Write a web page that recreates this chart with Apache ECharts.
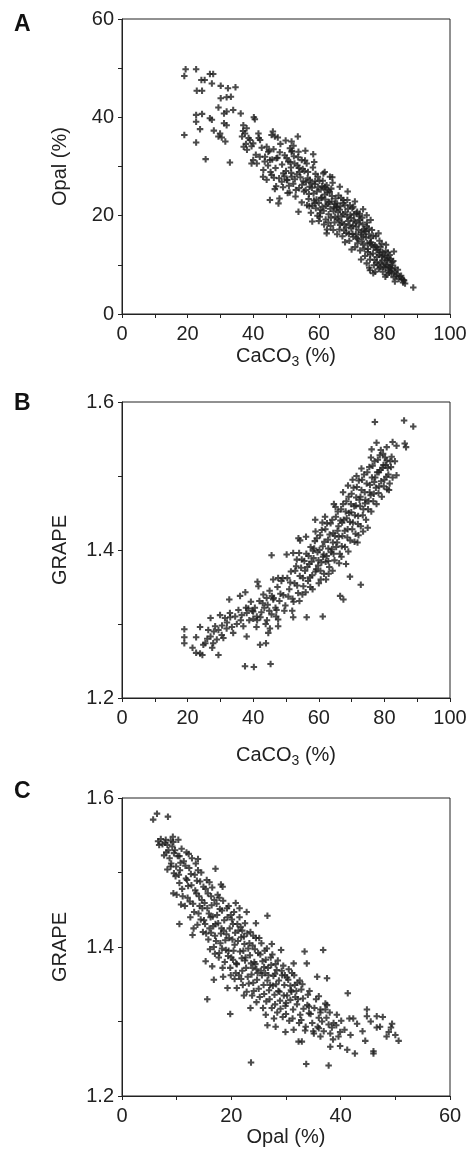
<!DOCTYPE html>
<html><head><meta charset="utf-8">
<script src="https://cdn.jsdelivr.net/npm/echarts@6/dist/echarts.min.js"></script>
<style>html,body{margin:0;padding:0;background:#fff}#c{width:472px;height:1151px}</style>
</head><body><div id="c"></div>
<script>
// Panel A: [CaCO3 %, Opal %]
const panelA = [
[19.0,48.4],[19.4,49.8],[22.6,49.8],[19.0,36.4],[22.6,34.9],[25.5,31.5],[32.9,30.8],[24.2,47.6],[25.2,47.6],
[22.8,45.4],[24.4,45.4],[26.8,48.8],[27.8,48.8],[27.4,46.9],[30.1,46.4],[32.3,45.9],[34.6,46.1],[30.1,43.9],
[31.9,44.1],[33.2,44.2],[29.4,42.0],[31.1,40.8],[31.9,41.2],[33.9,41.5],[36.2,40.8],[22.6,40.5],[24.4,40.7],
[22.6,39.1],[23.8,37.6],[26.8,39.8],[27.4,39.5],[31.1,38.8],[31.9,38.4],[28.0,37.3],[29.9,36.7],[29.4,36.1],
[30.4,35.9],[31.5,35.1],[37.0,38.4],[38.0,37.8],[37.5,36.7],[40.2,40.0],[40.5,39.6],[36.6,36.1],[37.1,34.0],
[38.1,33.4],[39.0,35.4],[40.0,34.7],[41.6,36.7],[42.1,35.4],[40.0,31.3],[41.1,30.6],[39.5,30.6],[44.1,34.0],
[44.6,33.0],[45.6,36.4],[46.6,36.1],[43.6,32.0],[45.1,31.3],[47.1,31.7],[43.1,29.3],[45.6,28.3],[44.1,27.3],
[46.6,25.4],[45.1,23.2],[47.7,22.5],[51.2,33.7],[51.7,35.1],[53.6,36.1],[51.7,33.0],[53.8,33.0],[54.8,31.3],
[50.2,31.7],[49.2,28.6],[50.2,27.3],[51.7,27.9],[48.7,26.9],[53.8,20.8],[58.0,18.8],[58.8,22.5],[60.4,20.5],
[58.3,32.5],[56.3,30.6],[61.9,25.9],[62.9,25.2],[63.4,27.9],[61.4,28.6],[62.4,16.4],[64.4,17.1],[65.4,21.8],
[67.5,23.2],[70.5,21.8],[71.5,20.5],[72.6,19.1],[74.6,20.1],[74.6,17.8],[73.6,15.7],[75.6,14.4],[77.6,13.0],
[79.2,11.7],[80.7,11.0],[74.6,10.3],[75.6,8.9],[76.6,8.3],[81.2,8.9],[82.2,8.3],[83.2,6.6],[85.8,6.9],[86.3,6.2],
[88.8,5.4],[78.7,9.5],[80.3,7.6],[81.7,9.5],
[44.5,30.2],[45.3,28.9],[46.2,33.5],[46.8,29.7],[47.4,31.8],[47.9,27.6],[48.3,34.6],[48.8,30.4],[49.1,25.8],
[49.6,32.3],[50.0,29.1],[50.4,27.2],[50.7,31.0],[51.1,24.7],[51.5,29.8],[51.8,33.2],[52.2,26.5],[52.6,30.6],
[52.9,23.9],[53.3,28.4],[53.7,31.9],[54.0,25.6],[54.4,27.8],[54.8,22.7],[55.1,29.5],[55.5,24.9],[55.8,31.2],
[56.1,26.8],[56.4,22.1],[56.7,28.9],[57.0,24.4],[57.3,27.3],[57.6,20.6],[57.9,25.7],[58.2,29.8],[58.5,23.1],
[58.8,26.4],[59.1,21.5],[59.4,24.9],[59.7,27.9],[60.0,22.6],[60.3,19.8],[60.6,25.3],[60.9,23.7],[61.2,27.1],
[61.5,21.0],[61.8,24.3],[62.1,19.2],[62.4,26.2],[62.7,22.4],[63.0,20.3],[63.3,24.8],[63.6,17.9],[63.9,22.9],
[64.2,26.7],[64.5,20.9],[64.8,18.6],[65.1,23.5],[65.4,21.6],[65.7,19.4],[66.0,24.1],[66.3,17.2],[66.6,21.9],
[66.9,19.9],[67.2,15.8],[67.5,22.6],[67.8,18.3],[68.1,20.7],[68.4,16.5],[68.7,23.2],[69.0,18.9],[69.3,14.9],
[69.6,20.2],[69.9,17.4],[70.2,21.5],[70.5,15.7],[70.8,19.0],[71.1,13.6],[71.4,17.8],[71.7,20.8],[72.0,15.2],
[72.3,18.4],[72.6,12.9],[72.9,16.6],[73.2,19.6],[73.5,14.1],[73.8,17.3],[74.1,11.8],[74.4,15.6],[74.7,18.6],
[75.0,13.2],[75.3,16.2],[75.6,11.1],[75.9,14.6],[76.2,17.1],[76.5,12.3],[76.8,9.9],[77.1,14.0],[77.4,15.8],
[77.7,11.6],[78.0,13.1],[78.3,9.2],[78.6,12.5],[78.9,10.4],[79.2,14.3],[79.5,8.6],[79.8,11.9],[80.1,10.1],
[80.4,12.8],[80.7,8.0],[81.0,10.9],[81.3,9.6],[81.6,12.0],[82.0,8.7],[82.4,10.5],[82.8,7.5],[83.3,9.4],
[83.8,8.2],[84.4,7.1],[85.1,7.8],[85.7,6.4],
[57.2,25.9],[58.0,22.0],[59.0,28.5],[60.5,21.2],[61.0,26.0],[62.0,23.3],[62.9,18.6],[63.8,25.5],[64.9,22.4],
[65.9,20.7],[66.8,23.6],[67.7,17.0],[68.6,19.8],[69.5,22.1],[70.4,17.9],[71.3,16.2],[72.2,19.9],[73.1,14.8],
[74.0,16.9],[74.9,12.6],[75.8,15.4],[76.7,13.6],[77.6,10.5],[78.5,14.9],[79.4,12.6],[80.3,9.4],[81.2,11.4],
[82.1,9.9],[71.8,14.4],[69.2,16.3],[66.5,18.1],[63.5,21.4],[61.6,18.2],[59.6,20.0],[56.9,23.4],[55.3,27.0],
[53.9,29.7],[52.7,27.4],[51.3,30.9],[49.5,28.0],[48.1,32.9],[47.0,26.0],[45.8,31.4],[44.9,33.2],[43.5,31.0],
[42.6,33.8],[41.7,35.8],[40.8,32.4],[39.5,34.1],[38.6,35.8],[37.8,34.6],[36.9,37.2]
];
const panelAMore = [
[50.9,26.1],[51.6,28.7],[52.4,32.1],[53.0,25.2],[53.5,30.2],[54.2,28.9],[54.9,26.3],[55.6,29.1],[56.0,25.2],
[56.6,27.6],[57.1,21.9],[57.7,26.6],[58.4,24.5],[58.9,27.0],[59.3,23.3],[59.8,25.8],[60.2,27.1],[60.7,23.6],
[61.1,21.8],[61.7,25.6],[62.2,22.0],[62.6,24.7],[63.1,22.8],[63.7,19.6],[64.0,24.0],[64.6,21.7],[65.0,19.8],
[65.6,22.5],[66.1,19.0],[66.4,21.2],[67.0,18.6],[67.4,20.3],[67.9,22.1],[68.3,17.6],[68.9,21.4],[69.4,18.1],
[69.8,19.5],[70.3,16.3],[70.7,20.3],[71.2,18.7],[71.6,15.4],[72.1,17.1],[72.5,20.4],[73.0,16.1],[73.4,18.2],
[73.9,13.3],[74.3,16.8],[74.8,14.4],[75.2,17.4],[75.7,12.1],[76.1,14.1],[76.6,15.9],[77.0,11.0],[77.5,13.7],
[78.0,10.0],[78.4,12.0],[78.8,13.6],[79.3,10.9],[79.7,9.6],[80.2,11.7],[80.6,9.9],[81.1,12.5],[81.5,8.4],
[81.9,11.2],[82.3,9.2],[82.7,10.8],[83.1,8.6],[83.6,7.8],[84.1,9.0],[84.7,7.6],[85.4,7.1],[86.0,6.8],
[60.0,18.9],[62.5,17.2],[65.6,16.2],[68.0,14.6],[70.0,13.1],[72.9,11.1],[75.4,9.4],[77.2,8.6],[58.6,30.9],
[61.8,28.9],[64.1,27.8],[66.4,25.9],[68.8,24.9],[71.0,22.9],[73.5,21.3],[75.8,19.1],[78.2,16.4],[80.5,14.1],
[82.9,12.7],[55.9,33.2],[52.3,34.2],[49.9,35.3],[47.5,35.9],[46.0,37.1],[50.5,24.6],[48.0,23.5],[46.3,27.7],
[43.0,27.9],[42.0,32.0]
];
// Panel B: [CaCO3 %, GRAPE]
const panelB = [
[19.0,1.293],[19.0,1.282],[19.0,1.274],[22.6,1.282],[23.8,1.296],[22.6,1.261],[23.8,1.260],[24.5,1.258],
[25.4,1.274],[27.0,1.283],[27.8,1.274],[27.0,1.308],[29.4,1.258],[29.4,1.292],[30.4,1.285],[28.4,1.297],
[29.9,1.312],[31.4,1.308],[32.9,1.315],[32.7,1.333],[31.9,1.294],[33.9,1.288],[36.0,1.338],[37.6,1.343],
[35.5,1.319],[38.0,1.315],[38.5,1.321],[37.0,1.297],[38.0,1.283],[37.5,1.243],[40.2,1.242],[45.3,1.246],
[40.0,1.317],[41.1,1.310],[40.0,1.307],[41.3,1.357],[41.6,1.351],[42.1,1.272],[43.9,1.274],[44.6,1.288],
[45.1,1.294],[42.9,1.328],[44.1,1.335],[46.1,1.333],[47.1,1.319],[45.6,1.393],[46.1,1.360],[47.6,1.362],
[47.6,1.306],[47.6,1.297],[50.2,1.394],[52.2,1.396],[53.3,1.387],[52.2,1.309],[56.3,1.309],[61.2,1.310],
[53.8,1.416],[54.3,1.413],[66.5,1.338],[67.5,1.333],[69.5,1.364],[72.8,1.353],[77.1,1.573],[86.0,1.575],
[88.8,1.567],[77.6,1.545],[82.5,1.546],[80.7,1.539],[83.7,1.541],[86.2,1.544],[86.6,1.539],[83.7,1.501],
[82.2,1.526],[80.7,1.521],
[26.0,1.280],[28.0,1.290],[30.5,1.298],[32.0,1.302],[33.5,1.296],[34.5,1.310],[35.0,1.300],[36.5,1.312],
[37.8,1.322],[38.8,1.305],[39.3,1.330],[24.8,1.272],[21.5,1.268],
[40.5,1.322],[41.2,1.305],[41.9,1.331],[42.5,1.316],[43.1,1.340],[43.8,1.300],[44.4,1.326],[45.0,1.345],
[45.6,1.313],[46.2,1.335],[46.8,1.322],[47.4,1.350],[48.0,1.331],[48.6,1.358],[49.2,1.339],[49.8,1.325],
[50.4,1.362],[51.0,1.347],[51.5,1.371],[52.0,1.334],[52.6,1.355],[53.1,1.378],[53.7,1.342],[54.2,1.365],
[54.8,1.387],[55.3,1.351],[55.8,1.372],[56.2,1.395],[56.7,1.358],[57.1,1.381],[57.5,1.404],[58.0,1.366],
[58.4,1.389],[58.8,1.412],[59.2,1.374],[59.6,1.397],[60.0,1.355],[60.4,1.420],[60.8,1.383],[61.2,1.405],
[61.6,1.368],[62.0,1.428],[62.4,1.392],[62.8,1.414],[63.2,1.377],[63.6,1.436],[64.0,1.401],[64.4,1.423],
[64.8,1.386],[65.2,1.445],[65.6,1.410],[66.0,1.432],[66.4,1.395],[66.8,1.455],[67.2,1.419],[67.6,1.441],
[68.0,1.404],[68.4,1.466],[68.8,1.428],[69.2,1.450],[69.6,1.413],[70.0,1.476],[70.4,1.437],[70.8,1.459],
[71.2,1.422],[71.6,1.485],[72.0,1.446],[72.4,1.468],[72.8,1.432],[73.2,1.495],[73.6,1.455],[74.0,1.478],
[74.4,1.441],[74.8,1.505],[75.2,1.466],[75.6,1.488],[76.0,1.452],[76.4,1.514],[76.8,1.476],[77.2,1.498],
[77.6,1.462],[78.0,1.522],[78.4,1.486],[78.8,1.508],[79.2,1.472],[79.6,1.530],[80.0,1.495],[80.4,1.515],
[80.8,1.482],[81.2,1.502],[81.6,1.490],[82.0,1.512],[82.5,1.498],[83.2,1.520],
[58.2,1.399],[59.9,1.386],[61.5,1.394],[62.9,1.402],[64.3,1.410],[65.7,1.426],[67.1,1.437],[68.5,1.443],
[69.9,1.451],[71.3,1.460],[72.7,1.472],[74.1,1.463],[75.5,1.478],[76.9,1.492],[78.3,1.505],[79.7,1.515],
[63.0,1.368],[66.2,1.382],[69.0,1.398],[71.8,1.410],[73.5,1.425],[60.6,1.360],[57.4,1.350],[55.0,1.340],
[52.3,1.330],[49.5,1.318],[47.0,1.310],[44.2,1.305],[59.0,1.425],[61.9,1.445],[64.6,1.462],[67.4,1.478],
[70.3,1.495],[73.0,1.510],[75.9,1.525]
];
const panelBMore = [
[48.3,1.341],[49.0,1.362],[50.7,1.337],[51.3,1.356],[51.9,1.318],[52.8,1.372],[53.4,1.352],[54.1,1.331],
[54.6,1.376],[55.2,1.362],[55.6,1.385],[56.0,1.343],[56.5,1.377],[56.9,1.392],[57.3,1.363],[57.8,1.384],
[58.1,1.347],[58.6,1.402],[59.0,1.371],[59.4,1.416],[59.8,1.379],[60.2,1.400],[60.5,1.372],[60.9,1.427],
[61.3,1.391],[61.7,1.411],[62.1,1.384],[62.5,1.436],[62.9,1.385],[63.3,1.421],[63.7,1.397],[64.1,1.441],
[64.5,1.395],[64.9,1.419],[65.3,1.404],[65.8,1.452],[66.1,1.418],[66.6,1.440],[67.0,1.405],[67.4,1.462],
[67.9,1.426],[68.2,1.452],[68.7,1.417],[69.1,1.472],[69.5,1.438],[69.8,1.462],[70.2,1.428],[70.6,1.484],
[71.0,1.447],[71.4,1.471],[71.9,1.435],[72.2,1.494],[72.6,1.459],[73.0,1.481],[73.4,1.447],[73.8,1.502],
[74.2,1.468],[74.6,1.490],[75.0,1.455],[75.4,1.512],[75.8,1.474],[76.2,1.498],[76.6,1.466],[77.0,1.520],
[77.4,1.484],[77.8,1.505],[78.2,1.477],[78.6,1.528],[79.0,1.493],[79.4,1.511],[79.8,1.486],[80.2,1.525],
[80.6,1.499],[81.0,1.511],[81.4,1.481],[81.8,1.520],[62.2,1.360],[64.2,1.372],[66.9,1.391],[68.3,1.381],
[70.9,1.411],[72.1,1.420],[74.9,1.430],[65.1,1.458],[61.1,1.437],[58.9,1.441],[56.1,1.418],[54.0,1.396],
[68.9,1.487],[71.5,1.500],[76.1,1.536],[78.9,1.535],[44.9,1.318],[42.2,1.309],[39.7,1.318],[36.2,1.305],
[33.0,1.309],[30.9,1.281],[28.9,1.279],[27.5,1.268],[26.3,1.292],[45.7,1.338],[43.4,1.322],[41.0,1.296]
];
// Panel C: [Opal %, GRAPE]
const panelC = [
[5.7,1.571],[6.4,1.579],[8.4,1.575],[6.6,1.542],[7.1,1.545],[8.0,1.544],[8.9,1.543],[10.3,1.544],[6.8,1.537],
[8.3,1.537],[9.2,1.535],[7.7,1.523],[9.5,1.526],[10.5,1.522],[8.3,1.504],[9.5,1.499],[8.9,1.508],[9.4,1.472],
[10.5,1.486],[11.9,1.490],[10.5,1.431],[10.8,1.457],[12.9,1.416],[13.1,1.425],[15.6,1.330],[17.1,1.505],
[18.4,1.481],[18.1,1.484],[19.8,1.310],[23.6,1.245],[26.6,1.442],[33.7,1.243],[37.8,1.241],[36.8,1.396],
[33.4,1.394],[33.8,1.378],[41.3,1.338],[44.8,1.316],[44.8,1.307],[46.6,1.307],[47.7,1.306],[46.6,1.292],
[49.4,1.297],[49.2,1.292],[48.4,1.280],[50.0,1.282],[50.6,1.274],[44.5,1.274],[46.0,1.260],[46.0,1.257],
[42.6,1.257],[41.2,1.262],[39.9,1.267],[41.6,1.304],[42.3,1.304],[39.9,1.286],[39.6,1.280],[38.4,1.292],
[38.1,1.284],[38.1,1.266],[32.3,1.273],[32.9,1.273],[29.9,1.286],[31.4,1.289],[26.6,1.295],[28.1,1.293],
[26.3,1.309],[27.8,1.304],[35.1,1.284],[36.0,1.291],[36.3,1.280],[34.2,1.311],[36.3,1.316],[37.5,1.322],
[37.2,1.316],[39.3,1.309],[38.7,1.298],[36.0,1.334],[35.7,1.360],[37.5,1.358],[31.4,1.378],[31.1,1.365],
[8.5,1.530],[9.0,1.512],[9.4,1.541],[9.8,1.495],[10.2,1.522],[10.6,1.503],[11.0,1.478],[11.3,1.515],[11.7,1.492],
[12.0,1.466],[12.3,1.506],[12.7,1.483],[13.0,1.458],[13.3,1.497],[13.6,1.472],[14.0,1.445],[14.3,1.488],
[14.6,1.463],[15.0,1.436],[15.3,1.478],[15.6,1.452],[16.0,1.425],[16.3,1.468],[16.6,1.441],[17.0,1.415],
[17.3,1.458],[17.6,1.432],[18.0,1.405],[18.3,1.449],[18.6,1.422],[19.0,1.396],[19.3,1.440],[19.6,1.412],
[20.0,1.386],[20.3,1.431],[20.6,1.403],[21.0,1.377],[21.3,1.422],[21.6,1.394],[22.0,1.368],[22.3,1.414],
[22.6,1.386],[23.0,1.360],[23.3,1.405],[23.6,1.378],[24.0,1.352],[24.3,1.397],[24.6,1.370],[25.0,1.344],
[25.3,1.390],[25.6,1.362],[26.0,1.337],[26.3,1.383],[26.6,1.355],[27.0,1.330],[27.3,1.376],[27.6,1.348],
[28.0,1.323],[28.3,1.369],[28.6,1.341],[29.0,1.317],[29.3,1.362],[29.6,1.335],[30.0,1.310],[30.4,1.356],
[30.8,1.329],[31.2,1.304],[31.6,1.349],[32.0,1.323],[32.4,1.298],[32.8,1.343],[33.2,1.317],[33.6,1.293],
[34.0,1.336],[34.5,1.310],[35.0,1.287],[35.5,1.330],[36.0,1.305],[36.6,1.300],[37.2,1.324],[37.8,1.296],
[10.0,1.470],[11.5,1.455],[12.5,1.440],[13.8,1.430],[14.8,1.420],[15.8,1.410],[16.8,1.400],[17.8,1.392],
[18.8,1.380],[19.8,1.372],[20.8,1.365],[21.8,1.357],[22.8,1.340],[23.8,1.335],[12.2,1.525],[13.5,1.512],
[14.5,1.500],[15.5,1.490],[16.5,1.480],[17.5,1.470],[18.5,1.462],[19.5,1.455],[20.5,1.447],[21.5,1.440],
[22.5,1.432],[23.5,1.420],[24.5,1.412],[25.5,1.405],[26.5,1.398],[27.5,1.390],[28.5,1.382],[29.5,1.375],
[30.5,1.370],[31.5,1.362],[32.5,1.355],[14.2,1.455],[16.2,1.440],[18.2,1.425],[20.2,1.410],[22.2,1.395],
[24.2,1.380],[26.2,1.365],[28.2,1.350],[30.2,1.335],[32.2,1.330],[34.2,1.320],[33.0,1.350],[31.0,1.340]
];
const panelCMore = [
[7.4,1.538],[8.1,1.527],[8.7,1.519],[9.3,1.548],[9.9,1.508],[10.4,1.497],[10.9,1.532],[11.1,1.468],[11.6,1.509],
[12.1,1.482],[12.4,1.461],[12.8,1.519],[13.2,1.447],[13.7,1.489],[13.9,1.503],[14.1,1.468],[14.4,1.437],
[14.9,1.481],[15.1,1.459],[15.4,1.418],[15.7,1.472],[15.9,1.445],[16.1,1.397],[16.4,1.456],[16.7,1.428],
[16.9,1.463],[17.2,1.408],[17.4,1.443],[17.7,1.386],[17.9,1.451],[18.1,1.418],[18.4,1.372],[18.7,1.436],
[18.9,1.409],[19.2,1.452],[19.4,1.388],[19.7,1.425],[19.9,1.362],[20.1,1.437],[20.4,1.395],[20.7,1.419],
[20.9,1.378],[21.2,1.408],[21.4,1.362],[21.7,1.427],[21.9,1.385],[22.1,1.349],[22.4,1.404],[22.7,1.372],
[22.9,1.418],[23.2,1.351],[23.4,1.389],[23.7,1.363],[23.9,1.402],[24.1,1.341],[24.4,1.377],[24.7,1.356],
[24.9,1.392],[25.2,1.333],[25.4,1.368],[25.7,1.381],[25.9,1.349],[26.1,1.395],[26.4,1.327],[26.7,1.372],
[26.9,1.342],[27.2,1.386],[27.4,1.318],[27.7,1.361],[27.9,1.336],[28.1,1.377],[28.4,1.312],[28.7,1.355],
[28.9,1.328],[29.2,1.368],[29.4,1.306],[29.7,1.349],[29.9,1.321],[30.2,1.359],[30.6,1.301],[30.9,1.342],
[31.3,1.316],[31.7,1.333],[32.1,1.352],[32.6,1.309],[33.1,1.331],[33.5,1.288],[33.9,1.322],[34.3,1.341],
[34.8,1.298],[35.2,1.318],[35.8,1.293],[36.3,1.312],[36.9,1.287],[37.4,1.305],[38.0,1.312],[38.6,1.276],
[39.2,1.295],[40.1,1.301],[40.7,1.289],[41.8,1.282],[43.0,1.297],[44.0,1.287],[45.5,1.300],[47.2,1.293],
[48.8,1.286],
[12.6,1.498],[13.4,1.476],[14.7,1.452],[15.2,1.431],[16.3,1.419],[17.1,1.431],[17.8,1.466],[18.3,1.398],
[19.1,1.417],[19.9,1.443],[20.3,1.383],[21.1,1.431],[21.8,1.413],[22.5,1.382],[23.1,1.398],[23.9,1.372],
[24.8,1.365],[25.1,1.412],[26.8,1.362],[27.1,1.349],[28.8,1.340],[29.8,1.362],[30.8,1.348],[31.9,1.341],
[11.8,1.527],[10.7,1.513],[9.7,1.530],[7.9,1.540],[13.9,1.518],[16.0,1.487],[17.0,1.391],[18.5,1.360],
[19.5,1.395],[20.6,1.357],[22.0,1.422],[24.0,1.415],[26.0,1.373],[28.0,1.364],[30.0,1.325],[32.8,1.302],
[15.3,1.381],[16.5,1.374],[16.8,1.356],[19.3,1.345],[21.0,1.345],[22.3,1.335],[23.5,1.318],[24.6,1.326],
[25.8,1.318],[21.5,1.452],[20.8,1.459],[22.8,1.447],[24.5,1.432],[27.4,1.404],[29.1,1.396]
];
const panelLetters = ['A','B','C'];
const xNames = ['CaCO{s|3} (%)','CaCO{s|3} (%)','Opal (%)'];
const yNames = ['Opal (%)','GRAPE','GRAPE'];
const xMax = [100,100,60];
const yRange = [[0,60,10],[1.2,1.6,0.1],[1.2,1.6,0.1]];

const chart = echarts.init(document.getElementById('c'), null, {renderer:'canvas'});
const FONT = 'Liberation Sans, Arial, Helvetica, sans-serif';
const INK = '#222';
const grids = [
  {left:122, top:19, width:328, height:295},
  {left:122, top:402, width:328, height:296},
  {left:122, top:798, width:328, height:298}
];
const xGaps = [29, 44, 31];
const cross = 'path://M0,2.4H7V4.6H0Z M2.4,0H4.6V7H2.4Z';
const seriesData = [panelA.concat(panelAMore), panelB.concat(panelBMore), panelC.concat(panelCMore)];

const option = {
  backgroundColor:'#fff',
  animation:false,
  grid: grids.map(g => Object.assign({show:true, borderColor:INK, borderWidth:1, backgroundColor:'transparent'}, g)),
  xAxis: grids.map((g,i) => ({
    gridIndex:i, type:'value', min:0, max:xMax[i], interval:10,
    axisLine:{show:true, onZero:false, lineStyle:{color:INK, width:1}},
    axisTick:{show:true, inside:false, length:4, lineStyle:{color:INK}},
    splitLine:{show:false},
    axisLabel:{color:INK, fontFamily:FONT, fontSize:20, margin:10,
      formatter: v => (Math.round(v) % 20 === 0 ? String(Math.round(v)) : '')},
    name: xNames[i], nameLocation:'middle', nameGap:xGaps[i],
    nameTextStyle:{color:INK, fontFamily:FONT, fontSize:20,
      rich:{s:{fontSize:14, fontFamily:FONT, color:INK, padding:[12,0,0,0]}}}
  })),
  yAxis: grids.map((g,i) => ({
    gridIndex:i, type:'value', min:yRange[i][0], max:yRange[i][1], interval:yRange[i][2],
    axisLine:{show:true, onZero:false, lineStyle:{color:INK, width:1}},
    axisTick:{show:true, inside:false, length:4, lineStyle:{color:INK}},
    splitLine:{show:false},
    axisLabel:{color:INK, fontFamily:FONT, fontSize:20, margin:8,
      formatter: v => {
        if (i === 0) return (Math.round(v) % 20 === 0) ? String(Math.round(v)) : '';
        const k = Math.round(v*10);
        return (k % 2 === 0) ? (k/10).toFixed(1) : '';
      }},
    name: yNames[i], nameLocation:'middle', nameGap:52, nameRotate:90,
    nameTextStyle:{color:INK, fontFamily:FONT, fontSize:20}
  })),
  graphic: panelLetters.map((t,i) => ({
    type:'text', left:14, top:[13,392,780][i],
    style:{text:t, font:'bold 23px ' + FONT, fill:'#111'}
  })),
  series: seriesData.map((d,i) => ({
    type:'scatter', xAxisIndex:i, yAxisIndex:i, data:d,
    symbol:cross, symbolSize:6.5, silent:true,
    itemStyle:{color:'#1e1e1e'}
  }))
};
chart.setOption(option);
</script>
</body></html>
